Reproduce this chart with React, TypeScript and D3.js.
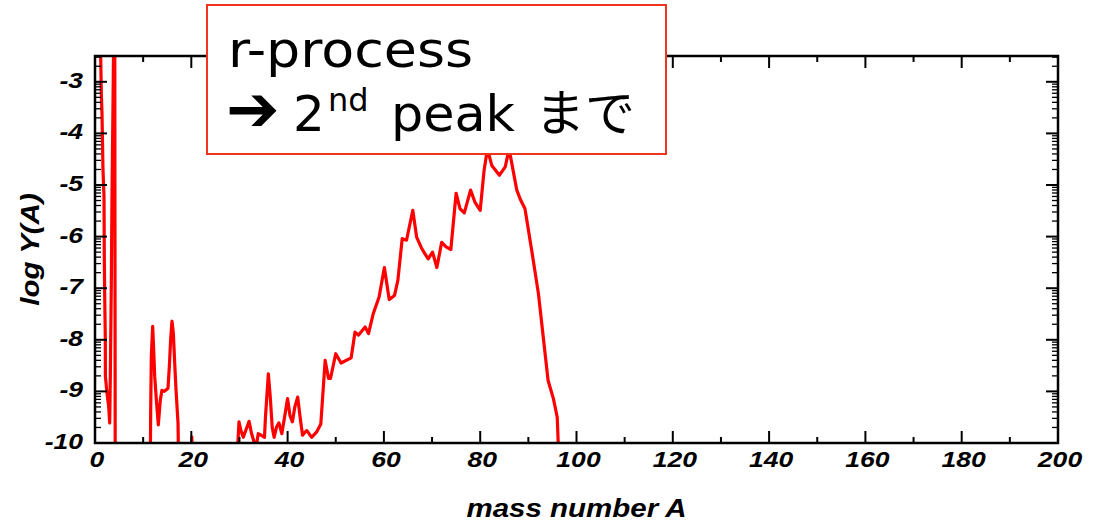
import React from "react";
import * as d3 from "d3";

// abundance curve (A, log Y)
const massA = [
  1.0, 1.31, 1.45, 1.66, 1.87, 1.93, 2.0, 2.14, 2.16, 2.49, 2.84, 3.05, 3.18, 3.39, 3.53, 3.74, 3.95, 4.1, 4.2,
  11.48, 11.56, 11.7, 11.98, 12.18, 12.4, 12.74, 13.15, 13.57, 13.9, 14.4, 15.16, 15.44, 15.71, 15.99, 16.27, 16.55, 16.82, 17.24, 17.38,
  19.9, 20.1, 20.3,
  29.4, 29.9, 30.3, 30.8, 32.0, 32.5, 33.1, 33.6, 33.9, 34.5, 35.2, 35.4, 36.0, 36.4, 36.8, 37.2, 37.7, 38.2, 38.8,
  40.0, 40.5, 41.0, 41.5, 42.1, 42.6, 43.1, 43.6, 44.0, 45.0, 46.0, 46.9, 47.8, 48.5, 48.9, 50.0, 51.1, 53.2,
  54.0, 54.7, 56.1, 56.8, 57.8, 59.0, 60.1, 61.1, 62.2, 62.9, 63.8, 64.7, 66.0, 66.8, 67.8, 68.5, 69.2, 70.1,
  71.0, 72.0, 72.9, 73.9, 75.0, 75.8, 76.7, 78.0, 78.9, 80.0, 80.8, 81.5, 82.4, 84.0, 85.2, 86.0, 87.2, 87.6,
  88.3, 89.3, 90.7, 92.1, 93.1, 94.1, 95.2, 96.0, 96.4,
];
const logY = [
  -1.5, -3.22, -3.61, -4.7, -5.22, -6.38, -7.02, -7.99, -8.71, -9.03, -9.29, -9.61, -8.71, -6.9, -5.22, -3.41, -1.5, -1.5, -10.5,
  -10.5, -9.42, -8.32, -7.74, -8.19, -8.71, -9.16, -9.65, -9.16, -8.98, -9.0, -8.94, -8.52, -7.99, -7.64, -7.87, -8.45, -8.96, -9.61, -10.5,
  -10.5, -9.88, -10.5,
  -10.5, -9.59, -9.76, -9.89, -9.58, -9.81, -10.0, -10.0, -9.82, -9.85, -9.89, -9.5, -8.66, -9.11, -9.69, -9.89, -9.69, -9.61, -9.82,
  -9.14, -9.47, -9.59, -9.3, -9.11, -9.5, -9.85, -9.79, -9.76, -9.89, -9.79, -9.63, -8.4, -8.75, -8.75, -8.27, -8.45, -8.35,
  -7.85, -7.91, -7.75, -7.88, -7.49, -7.17, -6.6, -7.22, -7.14, -6.85, -6.04, -6.07, -5.49, -6.01, -6.22, -6.33, -6.43, -6.3,
  -6.6, -6.11, -6.2, -6.25, -5.16, -5.46, -5.54, -5.1, -5.33, -5.49, -4.72, -4.3, -4.62, -4.81, -4.65, -4.3, -4.9, -5.1,
  -5.27, -5.46, -6.27, -7.11, -7.95, -8.79, -9.14, -9.5, -10.5,
];

const xTicks = d3.range(0, 201, 10);
const xLabels = d3.range(0, 201, 20);
const yMajor = d3.range(-10, -2, 1);

const W = 1097, H = 523;
const m = { left: 95, right: 1058, top: 56, bottom: 443 };
const axisFont = "'Liberation Sans', Arial, Helvetica, sans-serif";
const boxFont = "'DejaVu Sans', 'Noto Sans CJK JP', sans-serif";
const stretch = 1.18; // the original glyphs are wider than Arial

export default function App() {
  const x = d3.scaleLinear().domain([0, 200]).range([m.left, m.right]);
  const y = d3.scaleLinear().domain([-10, -2.5]).range([m.bottom, m.top]);

  const pts: [number, number][] = massA.map((a, i) => [a, logY[i]]);
  const line = d3.line<[number, number]>()
    .x(d => x(d[0]))
    .y(d => y(d[1]));

  // log-style minor ticks inside every decade
  const yMinor: number[] = [];
  for (let d = -10; d <= -3; d++) {
    for (let k = 2; k <= 9; k++) {
      const v = d + Math.log10(k);
      if (v <= -2.5) yMinor.push(v);
    }
  }

  return (
    <svg width={W} height={H} style={{ position: "absolute", left: 0, top: 0, background: "#fff" }}>
      <defs>
        <clipPath id="plotClip">
          <rect x={m.left} y={m.top} width={m.right - m.left} height={m.bottom - m.top} />
        </clipPath>
      </defs>

      <path d={line(pts) || ""} fill="none" stroke="#ff0000" strokeWidth={3.2}
        strokeLinejoin="round" clipPath="url(#plotClip)" />

      <g stroke="#000" strokeWidth={2}>
        {xTicks.map(t => {
          const len = t % 20 === 0 ? 12 : 6;
          return (
            <g key={"xt" + t}>
              <line x1={x(t)} x2={x(t)} y1={m.bottom} y2={m.bottom - len} />
              <line x1={x(t)} x2={x(t)} y1={m.top} y2={m.top + len} />
            </g>
          );
        })}
        {yMajor.map(t => (
          <g key={"yt" + t}>
            <line x1={m.left} x2={m.left + 12} y1={y(t)} y2={y(t)} />
            <line x1={m.right} x2={m.right - 12} y1={y(t)} y2={y(t)} />
          </g>
        ))}
      </g>
      <g stroke="#000" strokeWidth={1.3}>
        {yMinor.map((t, i) => (
          <g key={"ym" + i}>
            <line x1={m.left} x2={m.left + 6} y1={y(t)} y2={y(t)} />
            <line x1={m.right} x2={m.right - 6} y1={y(t)} y2={y(t)} />
          </g>
        ))}
      </g>
      <rect x={m.left} y={m.top} width={m.right - m.left} height={m.bottom - m.top}
        fill="none" stroke="#000" strokeWidth={2.5} />

      <g fontFamily={axisFont} fontWeight="bold" fontStyle="italic" fontSize={22.5} fill="#000">
        {xLabels.map(t => (
          <text key={"xl" + t} transform={`translate(${x(t) + 2},467) scale(${stretch},1)`} textAnchor="middle">{t}</text>
        ))}
        {yMajor.map(t => (
          <text key={"yl" + t} transform={`translate(${m.left - 12},${y(t) + 6}) scale(${stretch},1)`} textAnchor="end">{t}</text>
        ))}
        <text transform={`translate(${(m.left + m.right) / 2},517) scale(${stretch},1)`} textAnchor="middle" fontSize={25}>mass number A</text>
        <text transform={`translate(39,${(m.top + m.bottom) / 2}) rotate(-90) scale(${stretch},1)`} textAnchor="middle" fontSize={25}>log Y(A)</text>
      </g>

      <g fontFamily={boxFont} fill="#000">
        <rect x={207} y={5} width={459} height={149} fill="#fff" stroke="#f3341c" strokeWidth={2} />
        <text x={228} y={67} fontSize={50} textLength={245} lengthAdjust="spacingAndGlyphs">r-process</text>
        <text y={131} fontSize={50}>
          <tspan x={226} fontSize={64} fontWeight="bold">➔</tspan>
          <tspan x={293}>2</tspan>
          <tspan x={328} fontSize={32} dy={-20}>nd</tspan>
          <tspan x={391} dy={20} textLength={124} lengthAdjust="spacingAndGlyphs">peak</tspan>
          <tspan x={535} fontFamily="'Noto Sans CJK JP', sans-serif">まで</tspan>
        </text>
      </g>
    </svg>
  );
}
